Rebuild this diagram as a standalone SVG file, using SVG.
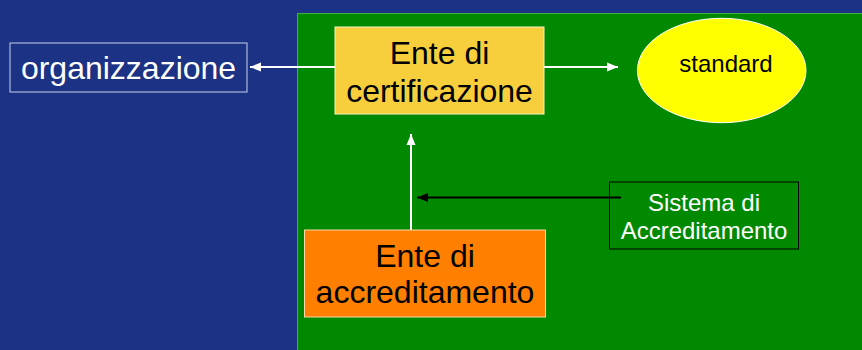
<svg xmlns="http://www.w3.org/2000/svg" width="862" height="350" viewBox="0 0 862 350">
<defs>
<marker id="aw" markerWidth="12" markerHeight="10" refX="11" refY="5" orient="auto" markerUnits="userSpaceOnUse"><path d="M0,0.5 L11,5 L0,9.5 Z" fill="#ffffff"/></marker>
<marker id="ab" markerWidth="12" markerHeight="10" refX="11" refY="5" orient="auto" markerUnits="userSpaceOnUse"><path d="M0,0.5 L11,5 L0,9.5 Z" fill="#000000"/></marker>
<style>
text{font-family:"Liberation Sans",Arial,sans-serif;text-anchor:middle}
.big{font-size:32px}
.sm{font-size:24px}
.w{stroke:#ffffff;stroke-width:2;fill:none}
</style>
</defs>
<rect x="0" y="0" width="862" height="350" fill="#1c3284"/>
<rect x="297.5" y="13.5" width="570" height="340" fill="#018a01" stroke="#3cb43c" stroke-width="1"/>
<g id="connectors">
<line class="w" x1="335" y1="67" x2="250" y2="67" marker-end="url(#aw)"/>
<line class="w" x1="544" y1="67" x2="618" y2="67" marker-end="url(#aw)"/>
<line class="w" x1="411" y1="230" x2="411" y2="134" marker-end="url(#aw)"/>
<line x1="621" y1="197.5" x2="417" y2="197.5" stroke="#000" stroke-width="2" marker-end="url(#ab)"/>
</g>
<g id="organizzazione">
<rect x="10" y="43" width="237" height="49" fill="none" stroke="#c8d0ec" stroke-width="1"/>
<text class="big" x="128.5" y="79" fill="#ffffff">organizzazione</text>
</g>
<g id="ente-certificazione">
<rect x="335" y="27" width="209" height="87" fill="#f7cf3c" stroke="#fff3c0" stroke-width="1"/>
<text class="big" x="439.5" y="64" fill="#000">Ente di</text>
<text class="big" x="439.5" y="101.5" fill="#000">certificazione</text>
</g>
<g id="standard">
<ellipse cx="721.7" cy="70.5" rx="84.3" ry="52.2" fill="#ffff00" stroke="#ffffff" stroke-width="1"/>
<text class="sm" x="726" y="72" fill="#000">standard</text>
</g>
<g id="ente-accreditamento">
<rect x="304.5" y="230" width="241" height="87" fill="#ff7f00" stroke="#ffd8a8" stroke-width="1"/>
<text class="big" x="425" y="266.5" fill="#000">Ente di</text>
<text class="big" x="425" y="303" fill="#000">accreditamento</text>
</g>
<g id="sistema-accreditamento">
<rect x="609.5" y="182" width="189" height="67" fill="none" stroke="#000" stroke-width="1"/>
<text class="sm" x="704" y="210.5" fill="#ffffff">Sistema di</text>
<text class="sm" x="704" y="239" fill="#ffffff">Accreditamento</text>
</g>
</svg>
